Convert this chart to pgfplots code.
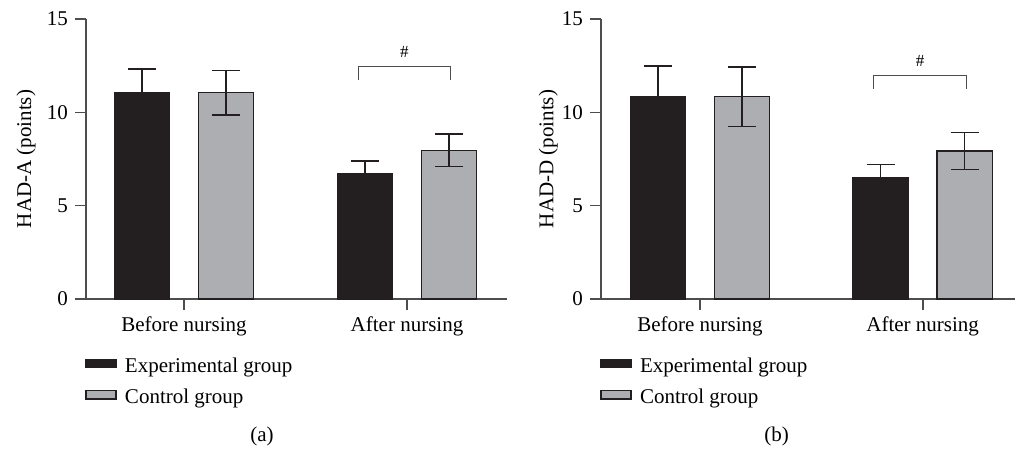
\documentclass[border=0pt]{standalone}
\usepackage{fontspec}
\setmainfont{Liberation Serif}
\usepackage{pgfplots}
\pgfplotsset{compat=1.18}
\definecolor{barblack}{HTML}{231F20}
\definecolor{bargray}{HTML}{ADAEB1}
\definecolor{axisgray}{HTML}{4D4D4F}
\newcommand\fs{\fontsize{10.5bp}{12.6bp}\selectfont}
\newcommand\fsh{\fontsize{8.5bp}{10bp}\selectfont}

\pgfplotsset{
  panel/.style={
    scale only axis, height=140bp, ymin=0, ymax=15, ytick={0,5,10,15},
    xtick={0,1}, xticklabels={Before nursing, After nursing},
    axis x line=bottom, axis y line=left,
    axis line style={-, axisgray, line width=0.8bp},
    tick align=outside, major tick length=5.5bp,
    every tick/.style={axisgray, line width=0.8bp},
    ybar, bar width=27.75bp, enlargelimits=false, clip=false,
    /pgf/number format/assume math mode=true,
    tick label style={font=\fs},
    label style={font=\fs},
    legend style={at={(axis description cs:0,0)}, anchor=north west,
      xshift=-0.5bp, yshift=-29bp, draw=none, fill=none, inner sep=0pt,
      font=\fs, row sep=5.75bp, legend cell align=left,
      nodes={inner sep=0pt, text height=7.5bp, text depth=2.5bp}},
    legend image code/.code={\draw[##1] (0bp,0bp) rectangle (15bp,4bp);
      \path (0bp,0bp) (19.2bp,0bp);},
    error bars/y dir=both, error bars/y explicit,
    error bars/error mark=-,
    error bars/error mark options={rotate=90, mark size=7bp, line width=0.75bp, barblack},
    error bars/error bar style={line width=0.75bp, barblack},
  },
  expbar/.style={fill=barblack, draw=barblack, line width=0.6bp, bar shift=-21bp},
  ctlbar/.style={fill=bargray, draw=barblack, line width=0.6bp, bar shift=21bp},
}

\begin{document}
\begin{tikzpicture}
\useasboundingbox (0bp,0bp) rectangle (507.5bp,225.5bp);

% Panel (a)
\begin{axis}[panel, at={(43bp,76bp)}, anchor=south west,
  width=210.35bp, xmin=-0.4395, xmax=1.447,
  ylabel={HAD-A (points)},
  ylabel style={at={(axis description cs:-0.1426,0.5)}, anchor=center}]
\addplot[expbar] coordinates {(0,11.05) +- (0,1.27) (1,6.73) +- (0,0.66)};
\addplot[ctlbar] coordinates {(0,11.05) +- (0,1.20) (1,7.96) +- (0,0.87)};
\legend{Experimental group, Control group}
\draw[axisgray, line width=0.6bp] (axis cs:0.7816,11.73) |- (axis cs:1.196,12.44) -- (axis cs:1.196,11.73);
\node[font=\fsh] at (axis cs:0.988,13.21) {\#};
\end{axis}

% Panel (b)
\begin{axis}[panel, at={(300.5bp,76bp)}, anchor=south west,
  width=207bp, xmin=-0.4446, xmax=1.4145,
  ylabel={HAD-D (points)},
  ylabel style={at={(axis description cs:-0.1275,0.5)}, anchor=center}]
\addplot[expbar] coordinates {(0,10.83) +- (0,1.66) (1,6.50) +- (0,0.70)};
\addplot[ctlbar] coordinates {(0,10.83) +- (0,1.60) (1,7.93) +- (0,0.98)};
\legend{Experimental group, Control group}
\draw[axisgray, line width=0.6bp] (axis cs:0.78,11.26) |- (axis cs:1.197,11.98) -- (axis cs:1.197,11.26);
\node[font=\fsh] at (axis cs:0.988,12.74) {\#};
\end{axis}

\node[font=\fs] at (131bp,7.15bp) {(a)};
\node[font=\fs] at (388.35bp,7.15bp) {(b)};
\end{tikzpicture}
\end{document}
